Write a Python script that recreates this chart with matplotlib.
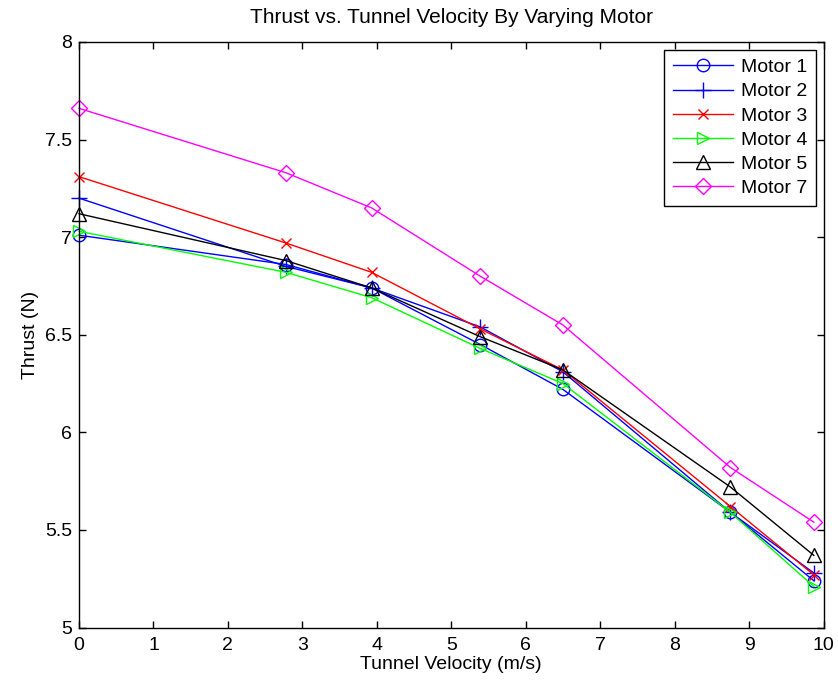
import matplotlib

matplotlib.use("Agg")
import matplotlib.pyplot as plt

# tunnel velocity set points (m/s)
velocity = [0.0, 2.78, 3.93, 5.39, 6.50, 8.75, 9.87]

# measured thrust (N) for each motor
motor_1 = [7.01, 6.86, 6.74, 6.45, 6.22, 5.59, 5.24]
motor_2 = [7.20, 6.85, 6.74, 6.54, 6.31, 5.59, 5.28]
motor_3 = [7.31, 6.97, 6.82, 6.53, 6.32, 5.62, 5.27]
motor_4 = [7.03, 6.82, 6.69, 6.43, 6.25, 5.59, 5.21]
motor_5 = [7.12, 6.88, 6.74, 6.49, 6.32, 5.72, 5.37]
motor_7 = [7.66, 7.33, 7.15, 6.80, 6.55, 5.82, 5.54]

series = [
    ("Motor 1", motor_1, "#0000ff", "o", 9),
    ("Motor 2", motor_2, "#0000ff", "+", 11),
    ("Motor 3", motor_3, "#ff0000", "x", 7),
    ("Motor 4", motor_4, "#00ff00", ">", 9),
    ("Motor 5", motor_5, "#000000", "^", 10),
    ("Motor 7", motor_7, "#ff00ff", "D", 8),
]

plt.rcParams["font.family"] = ["Liberation Sans", "DejaVu Sans"]

fig = plt.figure(figsize=(8.38, 6.87), dpi=100)
ax = fig.add_axes([0.0943, 0.0865, 0.8884, 0.8524])

for name, vals, color, marker, ms in series:
    ax.plot(
        velocity,
        vals,
        color=color,
        marker=marker,
        markersize=ms,
        markerfacecolor="none",
        markeredgecolor=color,
        markeredgewidth=1.0,
        linewidth=1.0,
        label=name,
        clip_on=False,
    )

ax.set_xlim(0, 10)
ax.set_ylim(5, 8)
ax.set_xticks(range(0, 11))
ax.set_yticks([5, 5.5, 6, 6.5, 7, 7.5, 8])
ax.set_yticklabels(["5", "5.5", "6", "6.5", "7", "7.5", "8"])

# inward ticks on all four sides
ax.tick_params(direction="in", length=5, width=1.0, top=True, right=True, labelsize=14)
ax.tick_params(axis="x", pad=7)
ax.tick_params(axis="y", pad=5)
for sp in ax.spines.values():
    sp.set_linewidth(1.0)

ax.set_xlabel("Tunnel Velocity (m/s)", fontsize=14, labelpad=1)
ax.set_ylabel("Thrust (N)", fontsize=14, labelpad=4)
ax.set_title("Thrust vs. Tunnel Velocity By Varying Motor", fontsize=15, pad=14)

leg = ax.legend(
    loc="upper right",
    fontsize=14,
    fancybox=False,
    framealpha=1,
    edgecolor="black",
    borderaxespad=0.4,
    handlelength=3.1,
    handletextpad=0.4,
    labelspacing=0.34,
    borderpad=0.45,
)
leg.get_frame().set_linewidth(1.0)

fig.savefig("out.png", dpi=100)
